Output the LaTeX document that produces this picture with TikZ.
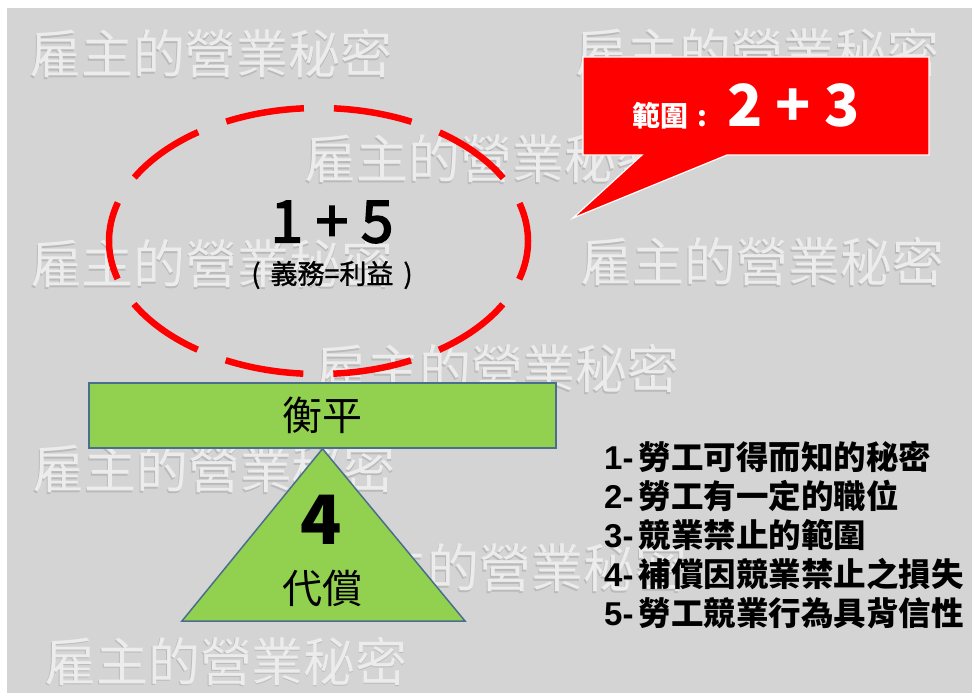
\documentclass[tikz,border=0pt]{standalone}
\usepackage{fontspec}
\setmainfont{Noto Sans CJK TC}
\newfontfamily\medium{Noto Sans CJK TC}[FakeBold=1.2]
\newfontfamily\mediumbig{Noto Sans CJK TC}[FakeBold=3]
\newfontfamily\lat{Liberation Sans}
\usetikzlibrary{shapes.geometric}
\definecolor{bggray}{RGB}{212,212,212}
\definecolor{wmshadow}{RGB}{186,186,186}
\definecolor{wmlight}{RGB}{236,236,236}
\definecolor{boxgreen}{RGB}{146,208,80}
\definecolor{boxedge}{RGB}{74,110,140}
\definecolor{calloutred}{RGB}{255,0,0}
\newcommand{\listline}[2]{{\lat\bfseries\fontsize{33}{33}\selectfont #1}\hspace{5pt}{\bfseries #2}}
\tikzset{
  wm/.style={inner sep=0pt, text=wmlight, font=\fontsize{52}{52}\selectfont},
  wmshade/.style={inner sep=0pt, text=wmshadow, font=\fontsize{52}{52}\selectfont},
  greenshape/.style={fill=boxgreen, draw=boxedge, line width=1.5pt},
  listitem/.style={inner sep=0pt, anchor=base west, font=\fontsize{32.5}{32.5}\selectfont},
  plain/.style={inner sep=0pt}
}
\begin{document}
\begin{tikzpicture}[x=1pt,y=-1pt]
\useasboundingbox (0,0) rectangle (972,693);
\fill[white] (0,0) rectangle (972,693);
\fill[bggray] (7,8) rectangle (972,693);
% watermarks
\foreach \n/\x/\y in {1/211/54, 2/757/53, 3/486/159, 4/212/264, 5/762/262, 6/497/369, 7/214/469, 8/505/568, 9/226/661} {
  \node[wmshade] (ws\n) at (\x-0.9,\y+1.1) {雇主的營業秘密};
  \node[wm] (w\n) at (\x,\y) {雇主的營業秘密};
}
% callout
\coordinate (c1) at (583,57);
\coordinate (c2) at (929,57);
\coordinate (c3) at (929,155);
\coordinate (c4) at (727,155);
\coordinate (tip) at (573,218);
\coordinate (c5) at (642,155);
\coordinate (c6) at (583,155);
\draw[fill=calloutred, draw=white, line width=1.2pt, line join=miter] (c1) -- (c2) -- (c3) -- (c4) -- (tip) -- (c5) -- (c6) -- cycle;
\node[plain, anchor=base west, text=white] (scope) at (632,126)
  {{\fontsize{28}{28}\selectfont\bfseries 範圍\hspace{9pt}:}\hspace{20pt}{\fontsize{58}{58}\selectfont\bfseries 2 + 3}};
% ellipse
\node[draw=calloutred, ellipse, minimum width=419pt, minimum height=266pt, inner sep=0pt,
      line width=6.5pt, dash pattern=on 79pt off 30pt, dash phase=40pt] (ell) at (318.5,241) {};
\node[plain, font=\fontsize{58}{58}\mediumbig] (onefive) at (332,222) {1 + 5};
\node[plain, font=\fontsize{27}{27}\medium] (duty) at (332,275) {(\hspace{10pt}義務=利益\hspace{10pt})};
% balance
\node[greenshape, minimum width=467pt, minimum height=65pt, inner sep=0pt,
      font=\fontsize{40}{40}\selectfont] (bal) at (322.5,415.5) {衡平};
\coordinate (apex) at (bal.south);
\coordinate (bl) at (182,621);
\coordinate (br) at (465,621);
\draw[greenshape, line join=miter] (apex) -- (br) -- (bl) -- cycle;
\node[plain, font=\fontsize{68}{68}\selectfont\bfseries] (four) at (321,520) {4};
\node[plain, font=\fontsize{40}{40}\selectfont] (comp) at (322,588) {代償};
% list
\node[listitem] (l1) at (604,469) {\listline{1-}{勞工可得而知的秘密}};
\node[listitem] (l2) at (604,508) {\listline{2-}{勞工有一定的職位}};
\node[listitem] (l3) at (604,547) {\listline{3-}{競業禁止的範圍}};
\node[listitem] (l4) at (604,586) {\listline{4-}{補償因競業禁止之損失}};
\node[listitem] (l5) at (604,625) {\listline{5-}{勞工競業行為具背信性}};
\end{tikzpicture}
\end{document}
